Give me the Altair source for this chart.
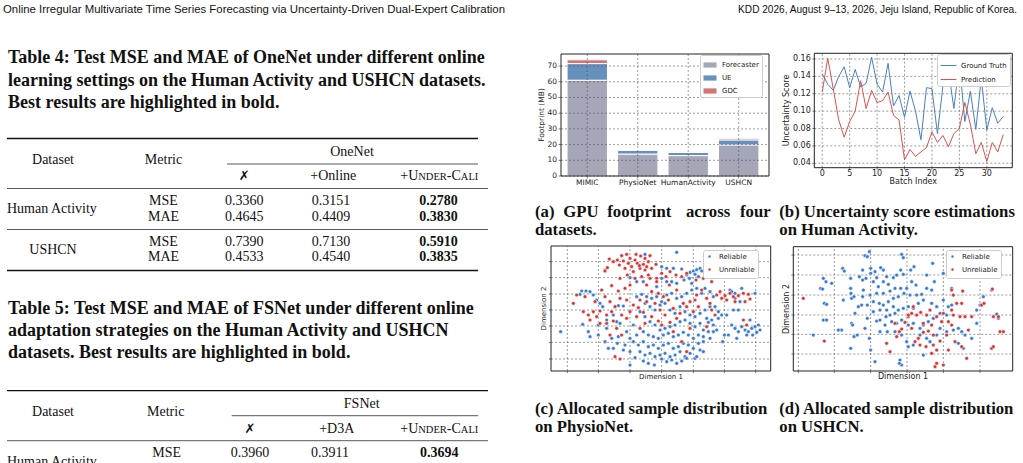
import pandas as pd
import altair as alt

W, H = 1023, 463
SANS = "DejaVu Sans"
SERIF = "Liberation Serif"
HEAD = "Liberation Sans"
INK = "#111111"
AXC = "#222222"

# ---------------- page text ----------------
HEADER_LEFT = "Online Irregular Multivariate Time Series Forecasting via Uncertainty-Driven Dual-Expert Calibration"
HEADER_RIGHT = "KDD 2026, August 9–13, 2026, Jeju Island, Republic of Korea."

T4_CAPTION = ["Table 4: Test MSE and MAE of OneNet under different online",
              "learning settings on the Human Activity and USHCN datasets.",
              "Best results are highlighted in bold."]
T4_MODEL = "OneNet"
T4_METHODS = ["✗", "+Online", "+Under-Cali"]
T4_DATASETS = ["Human Activity", "USHCN"]
METRICS = ["MSE", "MAE"]
T4_HA_MSE = [0.3360, 0.3151, 0.2780]
T4_HA_MAE = [0.4645, 0.4409, 0.3830]
T4_US_MSE = [0.7390, 0.7130, 0.5910]
T4_US_MAE = [0.4533, 0.4540, 0.3835]

T5_CAPTION = ["Table 5: Test MSE and MAE of FSNet under different online",
              "adaptation strategies on the Human Activity and USHCN",
              "datasets. Best results are highlighted in bold."]
T5_MODEL = "FSNet"
T5_METHODS = ["✗", "+D3A", "+Under-Cali"]
T5_HA_MSE = [0.3960, 0.3911, 0.3694]

CAPTION_A = ["(a) GPU footprint across four", "datasets."]
CAPTION_B = ["(b) Uncertainty score estimations", "on Human Activity."]
CAPTION_C = ["(c) Allocated sample distribution", "on PhysioNet."]
CAPTION_D = ["(d) Allocated sample distribution", "on USHCN."]

# ---------------- (a) GPU footprint ----------------
BAR_CATEGORIES = ["MIMIC", "PhysioNet", "HumanActivity", "USHCN"]
BAR_COMPONENTS = ["Forecaster", "UE", "GDC"]
FORECASTER_MB = [61.0, 14.0, 13.0, 19.8]
UE_MB = [10.6, 2.4, 2.0, 3.2]
GDC_MB = [2.4, 0.2, 0.2, 1.0]
BAR_COLORS = ["#a6a6b9", "#6790bd", "#d47474"]
BAR_YTICKS = [0, 10, 20, 30, 40, 50, 60, 70]

# ---------------- (b) uncertainty score ----------------
BATCH_INDEX = list(range(34))
GROUND_TRUTH = [0.143, 0.131, 0.124, 0.140, 0.151, 0.127, 0.148, 0.128, 0.132, 0.162,
                0.131, 0.122, 0.155, 0.106, 0.118, 0.093, 0.123, 0.100, 0.067, 0.127,
                0.126, 0.074, 0.129, 0.148, 0.103, 0.156, 0.088, 0.123, 0.079, 0.138,
                0.078, 0.104, 0.086, 0.094]
PREDICTION = [0.122, 0.161, 0.126, 0.090, 0.070, 0.088, 0.100, 0.135, 0.103, 0.124,
              0.110, 0.112, 0.122, 0.095, 0.090, 0.044, 0.056, 0.048, 0.053, 0.058,
              0.076, 0.064, 0.072, 0.059, 0.074, 0.080, 0.110, 0.085, 0.051, 0.064,
              0.042, 0.064, 0.053, 0.073]
LINE_SERIES = ["Ground Truth", "Prediction"]
LINE_COLORS = ["#4a80c2", "#d9534f"]
LINE_XTICKS = [0, 5, 10, 15, 20, 25, 30]
LINE_YTICKS = [0.04, 0.06, 0.08, 0.10, 0.12, 0.14, 0.16]

# ---------------- (c)/(d) allocated samples (read positions, arbitrary t-SNE units) ----------------
SCATTER_CLASSES = ["Reliable", "Unreliable"]
SCATTER_COLORS = ["#3a7bd0", "#d93636"]

C_UNRELIABLE = [
    (262,75),(275,62),(290,58),(300,70),(318,58),(332,63),(345,70),(355,80),(340,88),(322,85),
    (305,95),(285,100),(268,90),(250,80),(232,98),(225,108),(310,110),(330,100),(350,95),(365,100),
    (378,88),(360,62),(238,72),(280,78),(295,85),(315,75),(328,92),(345,105),(270,130),(292,120),
    (315,130),(335,125),(355,120),(380,130),(395,115),(408,125),(420,110),(438,120),(455,125),(470,115),
    (540,118),(545,140),(498,135),(520,130),
    (160,230),(175,240),(190,230),(200,245),(210,228),(230,240),(245,230),(255,215),(240,200),(225,185),
    (215,165),(245,152),(265,168),(285,160),(300,150),(270,190),(290,195),(310,210),(325,218),(300,230),
    (275,240),(290,250),(250,258),(320,245),(340,232),(210,265),(180,255),(130,205),(140,180),(165,185),
    (195,200),(230,265),(260,280),(240,300),(275,300),
    (350,150),(365,170),(385,175),(400,185),(415,195),(375,205),(390,225),(405,240),(385,258),(395,270),
    (420,262),(440,250),(450,235),(430,220),(460,205),(480,200),(495,195),(505,215),(490,230),(470,215),
    (500,180),(515,165),(530,190),(540,205),(560,180),(575,190),(600,175),(610,185),(625,182),(640,175),
    (655,178),(660,192),(615,200),(590,195),(545,225),(365,245),(345,265),(330,280),(255,365),(270,372),
    (430,290),(480,280),(470,350),(455,320),(418,150),(440,165),(350,200),(330,195),(380,140),(360,130),
    (570,170),(585,182),(645,200),(650,270),(640,255),(530,275),(555,240),
]
C_RELIABLE = [
    (440,52),(345,58),(395,95),(410,100),(430,100),(455,102),(470,120),(480,112),(490,108),(500,104),
    (510,100),(515,108),(478,130),(462,135),(485,145),(505,125),(495,118),(225,105),(300,128),(320,140),
    (340,140),(395,130),(410,140),(425,140),(440,145),(380,155),
    (92,290),(155,168),(168,168),(180,170),(190,180),(200,195),(210,205),(218,215),(158,268),(175,290),
    (180,305),(235,340),(225,320),(150,178),(265,212),(280,213),(205,270),(230,280),(250,240),(270,265),
    (245,310),(262,325),(285,330),(300,310),(290,290),(310,270),(260,260),
    (320,185),(335,178),(350,185),(365,190),(380,185),(395,200),(410,180),(425,175),(440,190),(455,185),
    (470,175),(485,165),(500,160),(515,175),(525,160),(540,170),(550,185),(345,205),(360,215),(375,225),
    (390,210),(405,205),(420,225),(435,235),(450,215),(465,230),(480,240),(495,245),(510,235),(525,225),
    (540,215),(555,215),(565,230),(330,230),(345,245),(360,260),(375,270),(390,285),(405,280),(420,275),
    (435,270),(450,260),(465,255),(480,265),(495,275),(510,265),(520,285),(535,262),(550,270),(560,285),
    (340,290),(355,300),(370,305),(385,310),(400,300),(415,295),(430,305),(445,300),(460,292),(475,300),
    (490,310),(505,300),(320,300),(310,320),(325,330),(340,320),(355,335),(370,330),(385,340),(400,330),
    (415,325),(430,340),(445,335),(460,325),(475,330),(490,340),(505,325),(520,320),(330,350),(345,360),
    (360,355),(375,365),(390,360),(405,355),(420,365),(435,360),(450,350),(465,365),(480,355),(495,370),
    (510,345),(520,350),(300,350),(315,368),(340,378),(355,385),(373,390),(395,372),(410,380),(425,375),
    (440,385),(455,378),(470,370),(500,365),(280,345),(265,305),
    (565,250),(575,240),(583,300),(578,320),(605,270),(615,280),(625,290),(635,275),(645,285),(655,290),
    (665,280),(675,275),(685,270),(690,285),(680,292),(668,300),(650,300),(620,310),(610,225),(625,225),
    (630,200),(635,160),(600,165),(615,175),(675,175),(660,255),(550,290),(590,240),(595,300),(605,170),
    (615,190),(530,250),(545,255),(535,290),(540,310),(520,305),(250,340),(300,390),(230,255),(205,300),
]
D_RELIABLE = [
    (268,50),(255,62),(262,65),(272,100),(248,105),(188,100),(193,108),(130,130),(122,160),(128,162),
    (138,140),(155,145),(133,205),(140,208),(130,255),(140,255),(190,195),(212,130),(212,160),(213,175),
    (215,190),(222,185),(238,125),(248,135),(258,130),(272,115),(285,110),(302,98),(310,105),(290,128),
    (280,140),(295,155),(310,140),(325,148),(320,125),(340,128),(350,120),(362,105),(370,118),(365,58),
    (370,68),(392,105),(402,95),(408,150),(395,140),(380,160),(362,160),(345,160),(330,168),(310,175),
    (290,175),(270,180),(250,165),(248,185),(262,210),(280,200),(298,205),(310,210),(325,200),(340,190),
    (355,185),(372,175),(390,180),(410,180),(425,178),(440,160),(455,165),(463,140),(440,120),(458,85),
    (490,115),(515,160),(518,125),(550,125),(610,185),(600,210),(590,265),(635,165),(650,237),(655,250),
    (245,210),(235,215),(225,235),(215,265),(218,270),(185,285),(175,285),(232,300),(222,305),(212,340),
    (268,310),(272,345),(285,380),(290,258),(300,255),(318,245),(330,240),(345,235),(355,225),(370,220),
    (385,215),(400,220),(415,205),(430,195),(455,205),(470,215),(490,195),(505,215),(515,210),(500,240),
    (480,235),(460,250),(445,260),(430,270),(420,280),(400,265),(385,270),(365,255),(350,265),(335,260),
    (315,270),(300,290),(322,290),(345,290),(365,300),(380,320),(385,335),(400,330),(420,300),(440,310),
    (450,320),(470,300),(480,280),(500,290),(520,285),(535,280),(545,290),(555,300),(575,310),(590,225),
    (535,325),(550,340),(430,360),(360,375),(365,390),(358,385),(255,280),(262,250),(280,230),(300,225),
    (320,225),(340,215),(100,300),
]
D_UNRELIABLE = [
    (70,190),(133,318),(330,350),(320,325),(345,265),(358,290),(375,262),(385,245),(395,235),(410,240),
    (422,232),(440,240),(450,225),(470,245),(485,260),(490,235),(505,260),(515,225),(530,205),(545,205),
    (520,240),(540,245),(555,245),(575,245),(515,270),(500,300),(480,318),(460,300),(445,288),(430,292),
    (415,310),(405,320),(420,330),(438,335),(460,330),(470,345),(455,355),(470,385),(490,390),(505,345),
    (525,320),(545,335),(565,285),(548,168),(515,165),(605,210),(612,205),(637,162),(640,245),(655,245),
    (660,290),(670,290),(635,340),(640,335),(560,370),(465,395),(395,280),(430,265),(455,270),(400,215),
    (385,240),(365,282),(520,180),(350,305),
]
C_GRID_X = [112, 205, 300, 395, 490, 583, 677]
C_GRID_Y = [-80, -128, -177, -225, -273, -322, -372]
D_GRID_X = [55, 163, 272, 381, 490, 600]
D_GRID_Y = [-60, -120, -180, -240, -298, -357]

# ---------------- helpers ----------------
GRID_STYLE = dict(color="#555555", strokeWidth=0.6, strokeDash=[2, 2])


def texts(rows, size, font=SERIF, weight="normal", align="left", baseline="middle", angle=0, color=INK):
    df = pd.DataFrame(rows, columns=["t", "px", "py"])
    return alt.Chart(df).mark_text(font=font, fontSize=size, fontWeight=weight, align=align,
                                   baseline=baseline, color=color, angle=angle).encode(
        x=alt.X("px:Q", scale=None, axis=None),
        y=alt.Y("py:Q", scale=None, axis=None),
        text="t:N")


def hrules(rows, width):
    df = pd.DataFrame(rows, columns=["x1", "x2", "y"])
    return alt.Chart(df).mark_rule(color=INK, strokeWidth=width).encode(
        x=alt.X("x1:Q", scale=None, axis=None), x2="x2:Q",
        y=alt.Y("y:Q", scale=None, axis=None))


TIMES_W = {"+": 0.564, "U": 0.722, "N": 0.722, "D": 0.722, "E": 0.611, "R": 0.667,
           "-": 0.333, "C": 0.667, "A": 0.722, "L": 0.611, "I": 0.333}


def small_caps(text, xc, ymid, big=14, small=10.5):
    runs = []
    for ch in text:
        size = small if ch.islower() else big
        if runs and runs[-1][1] == size:
            runs[-1][0] += ch.upper()
        else:
            runs.append([ch.upper(), size])
    widths = [sum(TIMES_W.get(c, 0.6) for c in r[0]) * r[1] for r in runs]
    x = xc - sum(widths) / 2
    base = ymid + round(0.3 * big)
    out = {big: [], small: []}
    for (t, s), w in zip(runs, widths):
        out[s].append((t, x, base))
        x += w
    return [texts(out[big], big, baseline="alphabetic"),
            texts(out[small], small, baseline="alphabetic")]


def legend(x, y, size, **kw):
    base = dict(orient="none", legendX=x, legendY=y, title=None, fillColor="white",
                strokeColor="#cccccc", cornerRadius=2, padding=3, labelFont=SANS,
                labelFontSize=size, labelColor=AXC, rowPadding=2)
    base.update(kw)
    return alt.Legend(**base)


def frame_and_grid(xs, ys, xdom, ydom, gx, gy):
    gh = pd.DataFrame({"v": gy, "lo": xdom[0], "hi": xdom[1]})
    gv = pd.DataFrame({"v": gx, "lo": ydom[0], "hi": ydom[1]})
    grid_h = alt.Chart(gh).mark_rule(**GRID_STYLE).encode(
        y=alt.Y("v:Q", scale=ys, axis=None), x=alt.X("lo:Q", scale=xs, axis=None), x2="hi:Q")
    grid_v = alt.Chart(gv).mark_rule(**GRID_STYLE).encode(
        x=alt.X("v:Q", scale=xs, axis=None), y=alt.Y("lo:Q", scale=ys, axis=None), y2="hi:Q")
    fr = pd.DataFrame({"x0": [xdom[0]], "x1": [xdom[1]], "y0": [ydom[0]], "y1": [ydom[1]]})
    frame = alt.Chart(fr).mark_rect(fillOpacity=0, stroke=AXC, strokeWidth=1).encode(
        x=alt.X("x0:Q", scale=xs, axis=None), x2="x1:Q",
        y=alt.Y("y0:Q", scale=ys, axis=None), y2="y1:Q")
    return [grid_h, grid_v], frame


def guides(xs, ys, xdom, ydom, xt, xl, yt, yl, fsize, tick=2.5, xdy=2.0, ydx=-3.5):
    """Tick marks and tick labels drawn through the panel's own scales."""
    dfx = pd.DataFrame({"v": xt, "lab": xl if xl else [""] * len(xt), "at": ydom[0]})
    dfy = pd.DataFrame({"v": yt, "lab": yl if yl else [""] * len(yt), "at": xdom[0]})
    out = [
        alt.Chart(dfx).mark_tick(orient="vertical", size=tick, thickness=0.8, yOffset=tick / 2,
                                 color=AXC).encode(
            x=alt.X("v:Q", scale=xs, axis=None), y=alt.Y("at:Q", scale=ys, axis=None)),
        alt.Chart(dfy).mark_tick(orient="horizontal", size=tick, thickness=0.8, xOffset=-tick / 2,
                                 color=AXC).encode(
            x=alt.X("at:Q", scale=xs, axis=None), y=alt.Y("v:Q", scale=ys, axis=None)),
    ]
    if xl:
        out.append(alt.Chart(dfx).mark_text(font=SANS, fontSize=fsize, color=AXC, align="center",
                                            baseline="top", dy=xdy).encode(
            x=alt.X("v:Q", scale=xs, axis=None), y=alt.Y("at:Q", scale=ys, axis=None), text="lab:N"))
    if yl:
        out.append(alt.Chart(dfy).mark_text(font=SANS, fontSize=fsize, color=AXC, align="right",
                                            baseline="middle", dx=ydx).encode(
            x=alt.X("at:Q", scale=xs, axis=None), y=alt.Y("v:Q", scale=ys, axis=None), text="lab:N"))
    return out


# ---------------- (a) bar panel ----------------
BX0, BX1, BY0, BY1 = 561, 769, 54, 176
bx_dom, by_dom = [-0.52, 3.6], [0, 77.7]
bxs = alt.Scale(domain=bx_dom, range=[BX0, BX1], nice=False, zero=False)
bys = alt.Scale(domain=by_dom, range=[BY1, BY0], nice=False, zero=False)
bar_rows = []
for i, cat in enumerate(BAR_CATEGORIES):
    base = 0.0
    for comp, vals in zip(BAR_COMPONENTS, [FORECASTER_MB, UE_MB, GDC_MB]):
        bar_rows.append({"i": i, "cat": cat, "comp": comp, "lo": base, "hi": base + vals[i]})
        base += vals[i]
bars = alt.Chart(pd.DataFrame(bar_rows)).transform_calculate(
    xa="datum.i - 0.4", xb="datum.i + 0.4"
).mark_rect(stroke="white", strokeWidth=1).encode(
    x=alt.X("xa:Q", scale=bxs, axis=None), x2="xb:Q",
    y=alt.Y("lo:Q", scale=bys, axis=None), y2="hi:Q",
    color=alt.Color("comp:N", scale=alt.Scale(domain=BAR_COMPONENTS, range=BAR_COLORS),
                    legend=legend(700, 55, 7, symbolType="M-1,-0.4H1V0.4H-1Z", symbolSize=170,
                                  symbolStrokeWidth=0, labelOffset=5, rowPadding=3)),
)
b_grids, b_frame = frame_and_grid(bxs, bys, bx_dom, by_dom, list(range(len(BAR_CATEGORIES))), BAR_YTICKS)
b_guides = guides(bxs, bys, bx_dom, by_dom, list(range(len(BAR_CATEGORIES))), BAR_CATEGORIES,
                  BAR_YTICKS, [str(v) for v in BAR_YTICKS], 7.5, tick=2.5, xdy=3, ydx=-4)
bar_panel = alt.layer(bars, *b_grids, b_frame, *b_guides)

# ---------------- (b) line panel ----------------
LX0, LX1, LY0, LY1 = 814.3, 1012.3, 53.3, 167.7
lx_dom, ly_dom = [-1.45, 34.65], [0.0349, 0.1666]
lxs = alt.Scale(domain=lx_dom, range=[LX0, LX1], nice=False, zero=False)
lys = alt.Scale(domain=ly_dom, range=[LY1, LY0], nice=False, zero=False)
line_df = pd.DataFrame(
    [{"idx": b, "series": LINE_SERIES[0], "score": v} for b, v in zip(BATCH_INDEX, GROUND_TRUTH)] +
    [{"idx": b, "series": LINE_SERIES[1], "score": v} for b, v in zip(BATCH_INDEX, PREDICTION)])
lines = alt.Chart(line_df).mark_line(strokeWidth=1).encode(
    x=alt.X("idx:Q", scale=lxs, axis=None),
    y=alt.Y("score:Q", scale=lys, axis=None),
    color=alt.Color("series:N", scale=alt.Scale(domain=LINE_SERIES, range=LINE_COLORS),
                    legend=legend(937, 54, 7, symbolType="stroke", symbolSize=250,
                                  symbolStrokeWidth=1, labelOffset=4)),
)
l_grids, l_frame = frame_and_grid(lxs, lys, lx_dom, ly_dom, LINE_XTICKS, LINE_YTICKS)
l_guides = guides(lxs, lys, lx_dom, ly_dom, LINE_XTICKS, [str(v) for v in LINE_XTICKS],
                  LINE_YTICKS, ["%.2f" % v for v in LINE_YTICKS], 8, tick=2, xdy=2, ydx=-3.5)
line_panel = alt.layer(*l_grids, lines, l_frame, *l_guides)


# ---------------- (c)/(d) scatter panels ----------------
def scatter_panel(reliable, unreliable, box, xdom, ydom, gx, gy, leg_xy):
    x0, x1, y0, y1 = box
    xs = alt.Scale(domain=xdom, range=[x0, x1], nice=False, zero=False)
    ys = alt.Scale(domain=ydom, range=[y1, y0], nice=False, zero=False)
    df = pd.DataFrame(
        [{"d1": a, "d2": -b, "cls": SCATTER_CLASSES[0], "o": 0} for a, b in reliable] +
        [{"d1": a, "d2": -b, "cls": SCATTER_CLASSES[1], "o": 1} for a, b in unreliable])
    pts = alt.Chart(df).mark_point(filled=True, shape="circle", size=14, stroke="white",
                                   strokeWidth=0.5, opacity=1).encode(
        x=alt.X("d1:Q", scale=xs, axis=None),
        y=alt.Y("d2:Q", scale=ys, axis=None),
        color=alt.Color("cls:N", scale=alt.Scale(domain=SCATTER_CLASSES, range=SCATTER_COLORS),
                        legend=legend(leg_xy[0], leg_xy[1], 7, symbolType="circle", symbolSize=16,
                                      labelOffset=6)),
        order=alt.Order("o:Q"),
    )
    grids, frame = frame_and_grid(xs, ys, xdom, ydom, gx, gy)
    ticks = guides(xs, ys, xdom, ydom, gx, None, gy, None, 7, tick=2)
    return alt.layer(*grids, pts, frame, *ticks)


scat_c = scatter_panel(C_RELIABLE, C_UNRELIABLE, (551, 770.7, 246, 371), [63, 722], [-408, -33],
                       C_GRID_X, C_GRID_Y, (703, 250))
scat_d = scatter_panel(D_RELIABLE, D_UNRELIABLE, (793.3, 1012.7, 246.7, 371), [40, 698], [-408, -35],
                       D_GRID_X, D_GRID_Y, (946, 250))

# ---------------- page text layers ----------------
fmt = lambda v: "%.4f" % v
layers = []
layers.append(texts([(HEADER_LEFT, 3, 10)], 11.4, font=HEAD))
layers.append(texts([(HEADER_RIGHT, 1017, 10)], 10.1, font=HEAD, align="right"))

# axis titles of the four panels
layers.append(texts([("Batch Index", 913.3, 182)], 8, font=SANS, align="center", color=AXC))
layers.append(texts([("Dimension 1", 661, 377)], 7, font=SANS, align="center", color=AXC))
layers.append(texts([("Dimension 1", 903, 377)], 8, font=SANS, align="center", color=AXC))
layers.append(texts([("Footprint (MB)", 541.7, 115)], 7.5, font=SANS, align="center", angle=270, color=AXC))
layers.append(texts([("Uncertainty Score", 786.7, 110.5)], 8, font=SANS, align="center", angle=270, color=AXC))
layers.append(texts([("Dimension 2", 544, 308.5)], 7, font=SANS, align="center", angle=270, color=AXC))
layers.append(texts([("Dimension 2", 787.3, 309)], 8, font=SANS, align="center", angle=270, color=AXC))

# Table 4
layers.append(texts([(t, 8, y) for t, y in zip(T4_CAPTION, [58, 80.5, 102.5])], 18, weight="bold"))
layers.append(hrules([(7, 478, 138.5), (7, 478, 270.5)], 1.3))
layers.append(hrules([(227, 478, 164), (7, 488, 188.5), (7, 488, 229.5)], 0.7))
t4_cols = [244.3, 331, 438.5]
rows_c = [("Dataset", 53, 159.5), ("Metric", 163.5, 159.5), (T4_MODEL, 352, 151.5),
          (T4_METHODS[1], 333.3, 176), ("USHCN", 53, 250)]
rows_l = [(T4_DATASETS[0], 7, 209)]
bold_c = []
for (mse, mae), (ym, ya) in zip([(T4_HA_MSE, T4_HA_MAE), (T4_US_MSE, T4_US_MAE)],
                                [(200.7, 216.7), (241.7, 257.3)]):
    rows_c += [(METRICS[0], 163.5, ym), (METRICS[1], 163.5, ya)]
    for j in range(2):
        rows_c += [(fmt(mse[j]), t4_cols[j], ym), (fmt(mae[j]), t4_cols[j], ya)]
    bold_c += [(fmt(mse[2]), t4_cols[2], ym), (fmt(mae[2]), t4_cols[2], ya)]
layers += small_caps(T4_METHODS[2], 439.3, 176)
layers.append(texts([(T4_METHODS[0], 244.3, 176)], 13, font=SANS, align="center"))

# Table 5
layers.append(texts([(t, 8, y) for t, y in zip(T5_CAPTION, [309, 331, 353])], 18, weight="bold"))
layers.append(hrules([(7, 488, 390.7)], 1.3))
layers.append(hrules([(231.7, 478.3, 415.7), (7, 488, 440.7)], 0.7))
t5_cols = [250, 330, 439.3]
rows_c += [("Dataset", 53, 411.7), ("Metric", 165.7, 411.7), (T5_MODEL, 361.7, 404),
           (T5_METHODS[1], 336.7, 429.3), (METRICS[0], 166.7, 452.7),
           (fmt(T5_HA_MSE[0]), t5_cols[0], 452.7), (fmt(T5_HA_MSE[1]), t5_cols[1], 452.7)]
bold_c += [(fmt(T5_HA_MSE[2]), t5_cols[2], 452.7)]
rows_l += [(T4_DATASETS[0], 7, 461.5)]
layers += small_caps(T5_METHODS[2], 439.3, 429.3)
layers.append(texts([(T5_METHODS[0], 250, 429.3)], 13, font=SANS, align="center"))

layers.append(texts(rows_c, 14, align="center"))
layers.append(texts(rows_l, 14))
layers.append(texts(bold_c, 14, weight="bold", align="center"))

# figure captions (line 1 of (a) is justified in the reference)
cap_rows = []
for w, x in zip(CAPTION_A[0].split(" "), [535, 563.3, 607.3, 686, 740]):
    cap_rows.append((w, x, 211.7))
cap_rows += [(CAPTION_A[1], 535, 229.5), (CAPTION_B[0], 779.3, 211.7), (CAPTION_B[1], 779.3, 229.5),
             (CAPTION_C[0], 535, 408.7), (CAPTION_C[1], 535, 426.5),
             (CAPTION_D[0], 779.3, 408.7), (CAPTION_D[1], 779.3, 426.5)]
layers.append(texts(cap_rows, 16.7, weight="bold"))

chart = alt.layer(*layers, bar_panel, line_panel, scat_c, scat_d).resolve_scale(
    x="independent", y="independent", color="independent"
).properties(
    width=W, height=H, autosize=alt.AutoSizeParams(type="none"), padding=0,
    background="white"
).configure_view(stroke=None)

chart.save("out.html", embed_options={"renderer": "svg", "actions": False})
